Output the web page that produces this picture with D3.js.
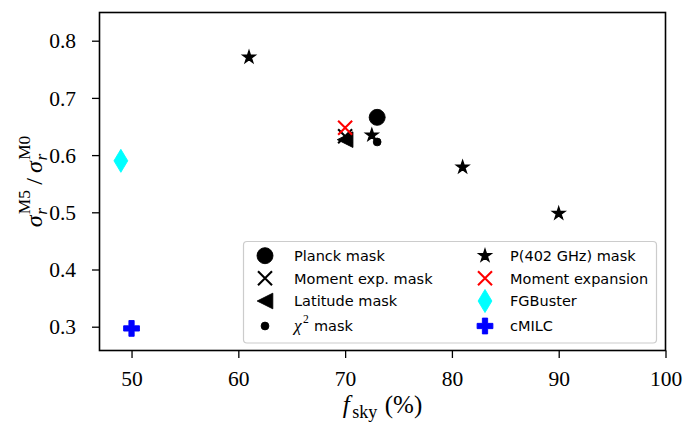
<!DOCTYPE html>
<html>
<head>
<meta charset="utf-8">
<script src="https://cdn.jsdelivr.net/npm/d3@7"></script>
<style>
  body { margin: 0; background: #fff; }
  svg { display: block; }
</style>
</head>
<body>
<svg id="chart" width="684" height="425"></svg>
<script>
// Axis ticks
const xTicks = [50, 60, 70, 80, 90, 100];
const yTicks = [0.3, 0.4, 0.5, 0.6, 0.7, 0.8];

// Sky fraction (%) and sigma_r ratio for each method / mask
const planckFsky = [73],   planckRatio = [0.666];
const momMaskFsky = [70],  momMaskRatio = [0.633];
const latFsky = [70],      latRatio = [0.627];
const chi2Fsky = [73],     chi2Ratio = [0.623];
const p402Fsky = [61, 72.5, 81, 90];
const p402Ratio = [0.771, 0.635, 0.579, 0.498];
const momExpFsky = [70],   momExpRatio = [0.648];
const fgbFsky = [49],      fgbRatio = [0.590];
const cmilcFsky = [50],    cmilcRatio = [0.297];

const plot = { left: 99.5, right: 665.5, top: 12.5, bottom: 350.5 };

const x = d3.scaleLinear().domain([47, 100]).range([plot.left, plot.right]);
const y = d3.scaleLinear().domain([0.2584, 0.8493]).range([plot.bottom, plot.top]);

const svg = d3.select("#chart");
const SERIF = "'Liberation Serif', 'DejaVu Serif', serif";
const SANS = "'DejaVu Sans', sans-serif";

// ---- marker shapes (centred on 0,0) ----
function circlePath(r) {
  return `M${-r},0A${r},${r} 0 1,0 ${r},0A${r},${r} 0 1,0 ${-r},0Z`;
}
function starPath(R) {
  const r = R * 0.381966, pts = [];
  for (let i = 0; i < 10; i++) {
    const a = -Math.PI / 2 + i * Math.PI / 5;
    const rr = i % 2 === 0 ? R : r;
    pts.push([rr * Math.cos(a), rr * Math.sin(a)]);
  }
  return "M" + pts.map(p => p.join(",")).join("L") + "Z";
}
function triLeftPath(h) { return `M${-h},0L${h},${-h}L${h},${h}Z`; }
function xPath(h) { return `M${-h},${-h}L${h},${h}M${-h},${h}L${h},${-h}`; }
function thinDiamondPath(h) { const w = h * 0.6; return `M0,${-h}L${w},0L0,${h}L${-w},0Z`; }
function plusPath(h) {
  const t = h / 3;
  return `M${-t},${-h}L${t},${-h}L${t},${-t}L${h},${-t}L${h},${t}L${t},${t}L${t},${h}L${-t},${h}L${-t},${t}L${-h},${t}L${-h},${-t}L${-t},${-t}Z`;
}

// filled markers carry a thin edge in their own colour
const markers = {
  bigCircle:   { d: circlePath(8.0),      fill: true, edge: 0.9 },
  smallCircle: { d: circlePath(3.9),      fill: true, edge: 0.9 },
  star:        { d: starPath(6.6),        fill: true, edge: 1.3 },
  triLeft:     { d: triLeftPath(7.8),     fill: true, edge: 0.9 },
  cross:       { d: xPath(7),             fill: false, edge: 2.1 },
  thinDiamond: { d: thinDiamondPath(11.5),fill: true, edge: 0.9 },
  plus:        { d: plusPath(7.9),        fill: true, edge: 0.9 }
};

// Series drawn in this order; legend fills column-wise (4 rows)
const series = [
  { label: "Planck mask",       fsky: planckFsky, ratio: planckRatio, marker: "bigCircle",   color: "#000000" },
  { label: "Moment exp. mask",  fsky: momMaskFsky, ratio: momMaskRatio, marker: "cross",     color: "#000000" },
  { label: "Latitude mask",     fsky: latFsky,    ratio: latRatio,    marker: "triLeft",     color: "#000000" },
  { label: "chi2",              fsky: chi2Fsky,   ratio: chi2Ratio,   marker: "smallCircle", color: "#000000" },
  { label: "P(402 GHz) mask",   fsky: p402Fsky,   ratio: p402Ratio,   marker: "star",        color: "#000000" },
  { label: "Moment expansion",  fsky: momExpFsky, ratio: momExpRatio, marker: "cross",       color: "#ff0000" },
  { label: "FGBuster",          fsky: fgbFsky,    ratio: fgbRatio,    marker: "thinDiamond", color: "#00ffff" },
  { label: "cMILC",             fsky: cmilcFsky,  ratio: cmilcRatio,  marker: "plus",        color: "#0000ff" }
];

function drawMarker(g, name, color, cx, cy) {
  const m = markers[name];
  const p = g.append("path").attr("d", m.d).attr("transform", `translate(${cx},${cy})`)
    .attr("stroke", color).attr("stroke-width", m.edge).attr("stroke-linejoin", "miter");
  p.attr("fill", m.fill ? color : "none");
}

// ---- data points ----
const dataG = svg.append("g");
series.forEach(s => {
  s.fsky.forEach((f, i) => drawMarker(dataG, s.marker, s.color, x(f), y(s.ratio[i])));
});

// ---- axes ----
const xAxis = d3.axisBottom(x).tickValues(xTicks).tickFormat(d3.format("d")).tickSize(7.5).tickPadding(13);
const yAxis = d3.axisLeft(y).tickValues(yTicks).tickFormat(d3.format(".1f")).tickSize(7.5).tickPadding(16);

const gx = svg.append("g").attr("transform", `translate(0,${plot.bottom})`).call(xAxis);
const gy = svg.append("g").attr("transform", `translate(${plot.left},0)`).call(yAxis);
[gx, gy].forEach(g => {
  g.select(".domain").remove();
  g.selectAll(".tick line").attr("stroke", "#000").attr("stroke-width", 1.3);
  g.selectAll(".tick text").attr("fill", "#000").attr("font-family", SERIF).attr("font-size", 21.5);
});
gx.selectAll(".tick text").attr("dy", "0.69em");
gy.selectAll(".tick text").attr("dy", "0.33em");

// frame
svg.append("rect")
  .attr("x", plot.left).attr("y", plot.top)
  .attr("width", plot.right - plot.left).attr("height", plot.bottom - plot.top)
  .attr("fill", "none").attr("stroke", "#000").attr("stroke-width", 1.6);

// ---- math-style text layout ----
// items: {t, scale, italic, family, shift, gap} or {stack:[...]} (sub/superscripts sharing one x)
function mathText(parent, items, fs) {
  const g = parent.append("g");
  let cx = 0;
  function put(it, at) {
    const t = g.append("text")
      .attr("x", at).attr("y", (it.shift || 0) * fs)
      .attr("font-size", (it.scale || 1) * fs)
      .attr("font-family", it.family || SERIF)
      .attr("font-style", it.italic ? "italic" : "normal")
      .attr("fill", "#000")
      .text(it.t);
    return t.node().getComputedTextLength();
  }
  items.forEach(it => {
    if (it.stack) {
      const ws = it.stack.map(s => put(s, cx + (s.dx || 0) * fs) + (s.dx || 0) * fs);
      cx += d3.max(ws) + (it.gap || 0) * fs;
    } else {
      cx += put(it, cx) + (it.gap || 0) * fs;
    }
  });
  return { g, width: cx };
}

// x label: f_sky (%)
{
  const holder = svg.append("g");
  const fs = 25;
  const m = mathText(holder, [
    { t: "f", italic: true, gap: 0.06 },
    { stack: [{ t: "sky", scale: 0.72, shift: 0.2, dx: 0.04 }], gap: 0.3 },
    { t: "(%)" }
  ], fs);
  holder.attr("transform", `translate(${(plot.left + plot.right) / 2 - m.width / 2},413)`);
}

// y label: sigma_r^M5 / sigma_r^M0
{
  const holder = svg.append("g");
  const fs = 24;
  const m = mathText(holder, [
    { t: "σ", italic: true },
    { stack: [
        { t: "M5", scale: 0.72, shift: -0.5, dx: 0.05 },
        { t: "r", scale: 0.72, shift: 0.22, italic: true, dx: 0.02 }
      ], gap: 0.22 },
    { t: "/", gap: 0.22 },
    { t: "σ", italic: true },
    { stack: [
        { t: "M0", scale: 0.72, shift: -0.5, dx: 0.05 },
        { t: "r", scale: 0.72, shift: 0.22, italic: true, dx: 0.02 }
      ] }
  ], fs);
  m.g.attr("transform", `translate(${-m.width / 2},0)`);
  holder.attr("transform", `translate(42,${(plot.top + plot.bottom) / 2}) rotate(-90)`);
}

// ---- legend ----
const leg = svg.append("g");
leg.append("rect")
  .attr("x", 243.5).attr("y", 241.5).attr("width", 413).attr("height", 101.5)
  .attr("rx", 3.5).attr("ry", 3.5)
  .attr("fill", "#fff").attr("fill-opacity", 0.8)
  .attr("stroke", "#cccccc").attr("stroke-width", 1.2);

const rowY = [255.7, 278.3, 301, 326];
const colMarkerX = [265, 485];
const colTextX = [294, 510];
const LFS = 14.5;

series.forEach((s, i) => {
  const col = Math.floor(i / 4), row = i % 4;
  const cy = rowY[row];
  drawMarker(leg, s.marker, s.color, colMarkerX[col], cy);
  if (s.label === "chi2") {
    const h = leg.append("g").attr("transform", `translate(${colTextX[col]},${cy + 5.3})`);
    mathText(h, [
      { t: "χ", italic: true, scale: 1.2 },
      { stack: [{ t: "2", scale: 0.8, shift: -0.6, dx: 0.1 }], gap: 0.35 },
      { t: "mask", family: SANS }
    ], LFS);
  } else {
    leg.append("text")
      .attr("x", colTextX[col]).attr("y", cy + 5.3)
      .attr("font-family", SANS).attr("font-size", LFS).attr("fill", "#000")
      .text(s.label);
  }
});
</script>
</body>
</html>
